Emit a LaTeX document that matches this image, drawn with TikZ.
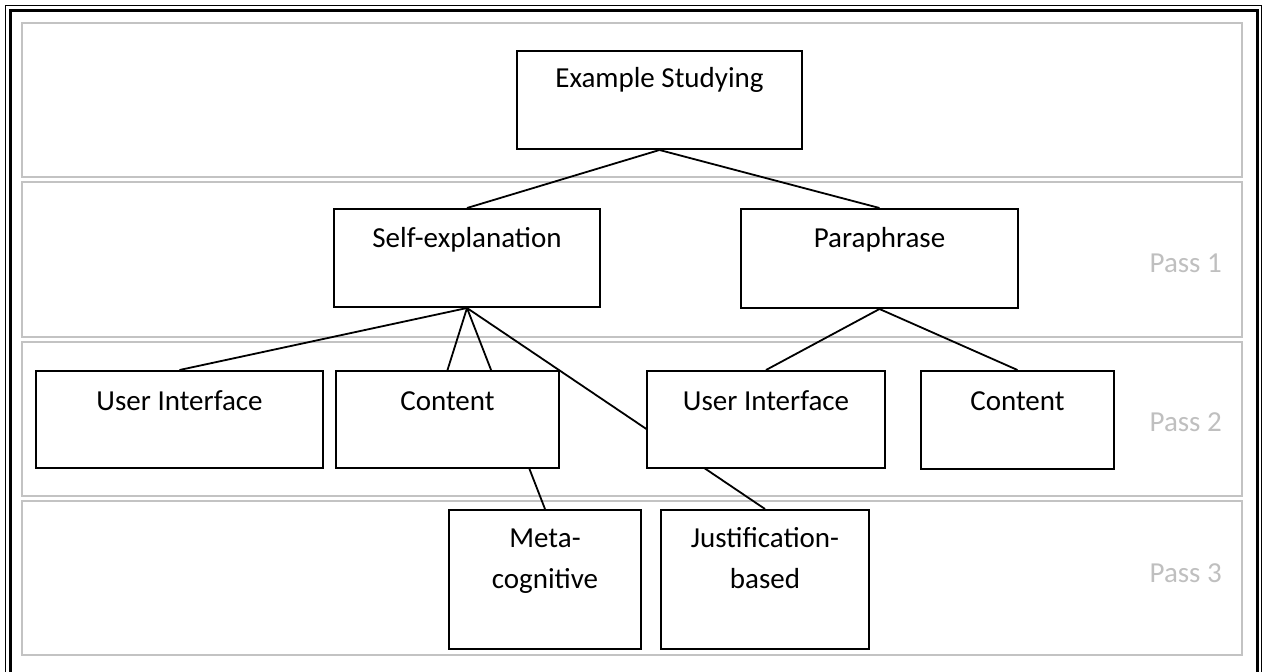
\documentclass[tikz,border=0pt]{standalone}
\usepackage{fontspec}
\setmainfont{Carlito}
\definecolor{passgray}{HTML}{BFBFBF}
\definecolor{panelgray}{HTML}{C3C3C3}
\pgfdeclarelayer{panels}
\pgfdeclarelayer{links}
\pgfsetlayers{panels,links,main}
\tikzset{
  box/.style={draw=black, line width=2pt, fill=white, rectangle, inner sep=0pt, anchor=north west},
  txt/.style={anchor=base, inner sep=0pt, font=\fontsize{29}{35}\selectfont, text=black},
  passlbl/.style={anchor=base east, inner sep=0pt, font=\fontsize{29}{35}\selectfont, text=passgray},
  panel/.style={draw=panelgray, line width=2pt},
  link/.style={draw=black, line width=1.8pt},
}
\begin{document}
\begin{tikzpicture}[x=1pt, y=-1pt]
\useasboundingbox (0,0) rectangle (1267,672);
\clip (0,0) rectangle (1267,672);
% outer page border
\draw[black, line width=1.2pt] (5.5,5.5) rectangle (1261.5,700);
\draw[black, line width=3pt] (10,10) rectangle (1257,700);
% panels
\begin{pgfonlayer}{panels}
\draw[panel] (22,23) rectangle (1242,177);
\draw[panel] (22,182) rectangle (1242,337);
\draw[panel] (22,342) rectangle (1242,496);
\draw[panel] (22,501) rectangle (1242,655);
\end{pgfonlayer}
% boxes
\node[box, minimum width=285pt, minimum height=98pt] (ex) at (516,50) {};
\node[box, minimum width=266pt, minimum height=98pt] (se) at (333,208) {};
\node[box, minimum width=277pt, minimum height=99pt] (pa) at (740,208) {};
\node[box, minimum width=287pt, minimum height=97pt] (ui1) at (35,370) {};
\node[box, minimum width=223pt, minimum height=97pt] (co1) at (335,370) {};
\node[box, minimum width=238pt, minimum height=97pt] (ui2) at (646,370) {};
\node[box, minimum width=193pt, minimum height=98pt] (co2) at (920,370) {};
\node[box, minimum width=192pt, minimum height=139pt] (meta) at (448,509) {};
\node[box, minimum width=208pt, minimum height=139pt] (just) at (660,509) {};
% texts
\node[txt] (exT) at ([yshift=-37pt]ex.north) {Example Studying};
\node[txt] (seT) at ([yshift=-39pt]se.north) {Self-explanation};
\node[txt] (paT) at ([yshift=-39pt]pa.north) {Paraphrase};
\node[txt] (ui1T) at ([yshift=-40pt]ui1.north) {User Interface};
\node[txt] (co1T) at ([yshift=-40pt]co1.north) {Content};
\node[txt] (ui2T) at ([yshift=-40pt]ui2.north) {User Interface};
\node[txt] (co2T) at ([yshift=-40pt]co2.north) {Content};
\node[txt] (metaA) at ([yshift=-38pt]meta.north) {Meta-};
\node[txt] (metaB) at ([yshift=-79pt]meta.north) {cognitive};
\node[txt] (justA) at ([yshift=-38pt]just.north) {Justification-};
\node[txt] (justB) at ([yshift=-79pt]just.north) {based};
% pass labels
\node[passlbl] (p1) at (1222,272) {Pass 1};
\node[passlbl] (p2) at (1222,431) {Pass 2};
\node[passlbl] (p3) at (1222,582) {Pass 3};
% connectors
\begin{pgfonlayer}{links}
\draw[link] (ex.south) -- (se.north);
\draw[link] (ex.south) -- (pa.north);
\draw[link] (se.south) -- (ui1.north);
\draw[link] (se.south) -- (co1.north);
\draw[link] (se.south) -- (meta.north);
\draw[link] (se.south) -- (just.north);
\draw[link] (pa.south) -- (ui2.north);
\draw[link] (pa.south) -- (co2.north);
\end{pgfonlayer}
\end{tikzpicture}
\end{document}
